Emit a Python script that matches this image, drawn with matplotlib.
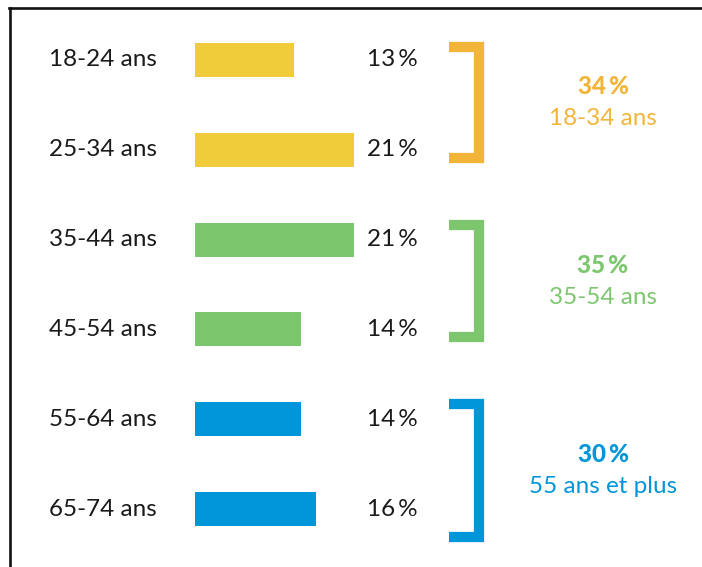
import matplotlib
matplotlib.use("Agg")
import matplotlib.pyplot as plt
from matplotlib.lines import Line2D

plt.rcParams["font.family"] = ["Lato", "DejaVu Sans"]

# age bands and share of respondents (%)
ages = ["18-24 ans", "25-34 ans", "35-44 ans", "45-54 ans", "55-64 ans", "65-74 ans"]
shares = [13, 21, 21, 14, 14, 16]

# groups of two bands, with bracket label
groups = [[0, 1], [2, 3], [4, 5]]
group_names = ["18-34 ans", "35-54 ans", "55 ans et plus"]

bar_colors = ["#F0CC3A", "#F0CC3A", "#7CC76E", "#7CC76E", "#0096D9", "#0096D9"]
group_colors = ["#F2B53A", "#7CC76E", "#0096D9"]
bracket_pads = [(0.15, 0.09), (0.16, 0.09), (0.17, 0.31)]

W, H = 702, 567
fig = plt.figure(figsize=(W / 100, H / 100), dpi=100)

# row 0 sits 60 px from the top, rows are ~90 px apart
row_px, row0_px = 89.8, 60
ylim = ((H - row0_px) / row_px, -row0_px / row_px)

# overlay axis in pixel x / row y for text and brackets
ax = fig.add_axes([0, 0, 1, 1])
ax.set_xlim(0, W)
ax.set_ylim(*ylim)
ax.axis("off")

# bar axis: starts at x=195 px
bar_left, bar_w = 195, 167
axb = fig.add_axes([bar_left / W, 0, bar_w / W, 1])
axb.set_xlim(0, 22)
axb.set_ylim(*ylim)
axb.axis("off")

rows = list(range(len(ages)))
axb.barh(rows, shares, height=0.38, color=bar_colors, left=0)

txt = "#1a1a1a"
for i, (lab, v) in enumerate(zip(ages, shares)):
    ax.text(49, i, lab, ha="left", va="center", fontsize=17.5, color=txt)
    ax.text(418, i, f"{v}\u2009%", ha="right", va="center", fontsize=17.5, color=txt)

# brackets with group totals
for g, name, col, (pt, pb) in zip(groups, group_names, group_colors, bracket_pads):
    top = g[0] - pt
    bot = g[-1] + pb
    ax.add_line(Line2D([449, 479, 479, 449], [top, top, bot, bot], color=col,
                       lw=7.4, solid_joinstyle="miter", solid_capstyle="butt"))
    mid = (top + bot) / 2
    total = sum(shares[k] for k in g)
    ax.text(603, mid - 0.18, f"{total}\u2009%", ha="center", va="center",
            fontsize=17.5, fontweight="black", color=col)
    ax.text(603, mid + 0.18, name, ha="center", va="center",
            fontsize=17.5, color=col)

# frame: top and left rules only
y_top = 1 - 7.5 / H
fig.add_artist(Line2D([9 / W, 1], [y_top, y_top], transform=fig.transFigure,
                      color="#111111", lw=1.9))
fig.add_artist(Line2D([9.5 / W, 9.5 / W], [0, y_top], transform=fig.transFigure,
                      color="#111111", lw=1.9))

fig.savefig("out.png", dpi=100, facecolor="white")
